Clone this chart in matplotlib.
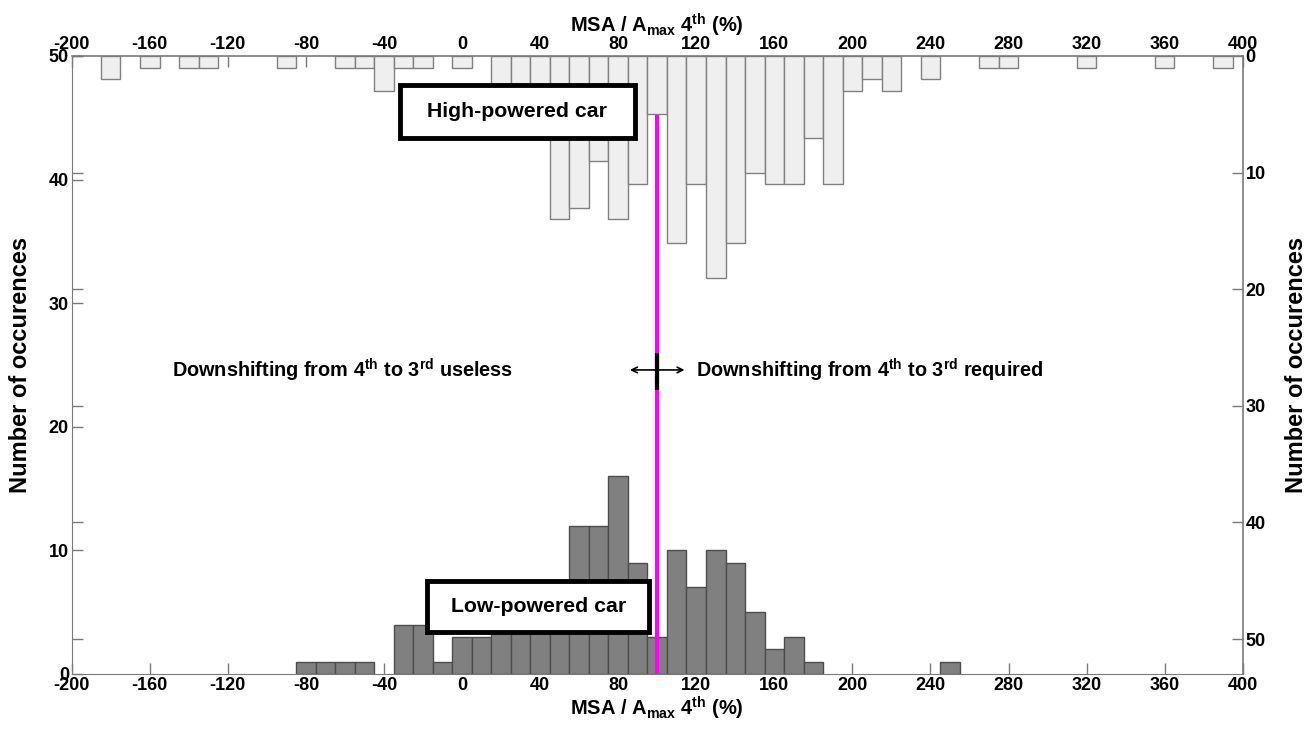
import numpy as np
import matplotlib
matplotlib.use("Agg")
import matplotlib.pyplot as plt
from matplotlib.patches import Rectangle

plt.rcParams['font.family'] = ['Liberation Sans', 'DejaVu Sans']
plt.rcParams['font.weight'] = 'bold'
plt.rcParams['axes.unicode_minus'] = False
plt.rcParams['mathtext.fontset'] = 'custom'
plt.rcParams['mathtext.rm'] = 'Liberation Sans:bold'
plt.rcParams['mathtext.bf'] = 'Liberation Sans:bold'
plt.rcParams['mathtext.it'] = 'Liberation Sans:bold'
plt.rcParams['mathtext.default'] = 'bf'

# Low-powered car histogram (bin centres in %, counts)
low_x = [-80, -70, -60, -50, -30, -20, -10, 0, 10, 20, 30, 40, 50, 60, 70, 80, 90,
         100, 110, 120, 130, 140, 150, 160, 170, 180, 250]
low_n = [1, 1, 1, 1, 4, 4, 1, 3, 3, 4, 4, 4, 4, 12, 12, 16, 9,
         3, 10, 7, 10, 9, 5, 2, 3, 1, 1]

# High-powered car histogram (bin centres in %, counts) - drawn downward from top
high_x = [-180, -160, -140, -130, -90, -60, -50, -40, -30, -20, 0, 20, 30, 40, 50, 60,
          70, 80, 90, 100, 110, 120, 130, 140, 150, 160, 170, 180, 190, 200, 210, 220,
          240, 270, 280, 320, 360, 390]
high_n = [2, 1, 1, 1, 1, 1, 1, 3, 1, 1, 1, 5, 5, 6, 14, 13,
          9, 14, 11, 5, 16, 11, 19, 16, 10, 11, 11, 7, 11, 3, 2, 3,
          2, 1, 1, 1, 1, 1]

bin_width = 10
threshold = 100
x_ticks = [-200, -160, -120, -80, -40, 0, 40, 80, 120, 160, 200, 240, 280, 320, 360, 400]
y_ticks = [0, 10, 20, 30, 40, 50]

W, H = 1315, 736
fig = plt.figure(figsize=(W / 100, H / 100), dpi=100)
rect = [71.7 / W, (H - 674) / H, (1242.7 - 71.7) / W, (674 - 56) / H]
ax = fig.add_axes(rect)
ax2 = fig.add_axes(rect, frameon=False)

spine_col = '#7a7a7a'
tick_fs = 13
lab_fs = 17
xlab_fs = 14.5

# bottom axes
ax.bar(low_x, low_n, width=bin_width, color='#808080', edgecolor='#4d4d4d', linewidth=1.0, zorder=2)
ax.set_xlim(-200, 400)
ax.set_ylim(0, 50)
ax.set_xticks(x_ticks)
ax.set_yticks(y_ticks)
ax.tick_params(direction='in', length=8, width=1, colors=spine_col, labelcolor='black',
               labelsize=tick_fs, top=False, right=False, pad=2)
for lab in ax.get_xticklabels() + ax.get_yticklabels():
    lab.set_fontweight('bold')
for s in ['top', 'right']:
    ax.spines[s].set_visible(False)
for s in ['left', 'bottom']:
    ax.spines[s].set_color(spine_col)
ax.set_xlabel('MSA / A$_{max}$ 4$^{th}$ (%)', fontsize=xlab_fs, fontweight='bold', labelpad=1)
ax.set_ylabel('Number of occurences', fontsize=lab_fs, fontweight='bold', labelpad=12)

# top axes (inverted)
ax2.bar(high_x, high_n, width=bin_width, color='#efefef', edgecolor='#808080', linewidth=1.0, zorder=2)
ax2.set_xlim(-200, 400)
ax2.set_ylim(53, 0)
ax2.set_xticks(x_ticks)
ax2.set_yticks(y_ticks)
ax2.xaxis.tick_top()
ax2.yaxis.tick_right()
ax2.xaxis.set_label_position('top')
ax2.yaxis.set_label_position('right')
ax2.tick_params(direction='in', length=8, width=1, colors=spine_col, labelcolor='black',
                labelsize=tick_fs, pad=2)
ax2.tick_params(axis='y', left=True, right=True)
for lab in ax2.get_xticklabels() + ax2.get_yticklabels():
    lab.set_fontweight('bold')
ax2.plot([-200, 400], [0, 0], color=spine_col, lw=1.2, clip_on=False, zorder=3)
ax2.plot([400, 400], [0, 53], color=spine_col, lw=1.2, clip_on=False, zorder=3)
ax2.set_xlabel('MSA / A$_{max}$ 4$^{th}$ (%)', fontsize=xlab_fs, fontweight='bold', labelpad=3)
ax2.set_ylabel('Number of occurences', fontsize=lab_fs, fontweight='bold', labelpad=14,
               rotation=90)

# threshold line
ax.plot([threshold, threshold], [0, 45.25], color='#ff00ff', lw=3, zorder=5, solid_capstyle='butt')
ax.plot([threshold, threshold], [23, 26], color='black', lw=3, zorder=6, solid_capstyle='butt')
ax.annotate('', xy=(threshold - 14, 24.6), xytext=(threshold - 0.5, 24.6),
            arrowprops=dict(arrowstyle='->', color='black', lw=1.2, shrinkA=0, shrinkB=0), zorder=7)
ax.annotate('', xy=(threshold + 14, 24.6), xytext=(threshold + 0.5, 24.6),
            arrowprops=dict(arrowstyle='->', color='black', lw=1.2, shrinkA=0, shrinkB=0), zorder=7)

txt_fs = 14.3
ax.text(-148.8, 24.6, 'Downshifting from 4$^{th}$ to 3$^{rd}$ useless', fontsize=txt_fs,
        fontweight='bold', va='center', ha='left', zorder=8)
ax.text(120, 24.6, 'Downshifting from 4$^{th}$ to 3$^{rd}$ required', fontsize=txt_fs,
        fontweight='bold', va='center', ha='left', zorder=8)

# labelled boxes
for (x0, x1, y0, y1, label) in [(-31.8, 88.6, 43.4, 47.65, 'High-powered car'),
                                (-17.8, 95.9, 3.42, 7.55, 'Low-powered car')]:
    ax.add_patch(Rectangle((x0, y0), x1 - x0, y1 - y0, facecolor='white', edgecolor='black',
                           lw=3.5, zorder=9, clip_on=False))
    ax.text((x0 + x1) / 2, (y0 + y1) / 2, label, fontsize=15.3, fontweight='bold',
            ha='center', va='center', zorder=10)

ax.set_zorder(2)
ax.patch.set_visible(False)
ax2.set_zorder(1)

fig.savefig('out.png', dpi=100, facecolor='white')
